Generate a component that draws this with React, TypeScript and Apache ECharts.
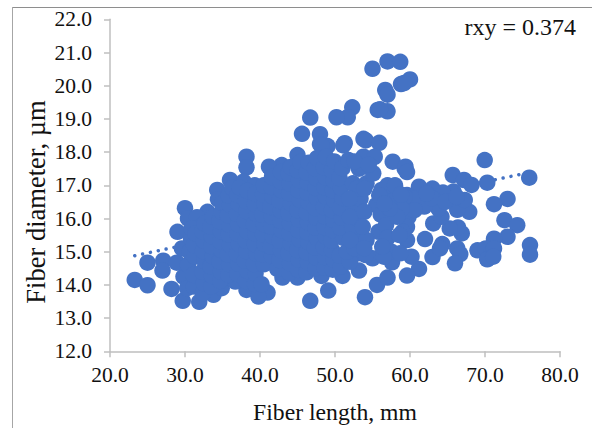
import React, { useEffect, useRef } from "react";
import * as echarts from "echarts";

const xTickMin = 20;
const xTickMax = 80;
const yTickMin = 12;
const yTickMax = 22;
const trendStart = [23.3, 14.88];
const trendEnd = [76, 17.39];

const upperBranch = [
  [55.0, 20.51], [57.0, 20.73], [58.7, 20.72], [60.0, 20.19], [58.8, 20.05], [59.2, 20.08],
  [56.7, 19.87], [57.0, 19.73], [57.0, 19.23], [55.7, 19.27], [56.0, 19.29], [52.3, 19.35],
  [51.7, 19.05], [50.2, 19.05], [46.7, 19.04], [45.6, 18.55], [48.0, 18.54], [48.0, 18.24],
  [49.0, 18.18], [51.3, 18.27], [53.8, 18.4], [54.1, 18.35], [55.9, 18.28], [48.2, 18.2],
  [51.1, 18.2], [45.0, 17.91], [53.8, 17.86], [55.3, 17.86], [57.7, 17.71], [59.3, 17.5],
  [59.4, 17.56], [59.6, 17.4], [38.2, 17.86], [38.2, 17.54], [41.4, 17.51], [42.9, 17.61],
  [41.2, 17.56],
];

const rightCluster = [
  [69.96, 17.76], [75.9, 17.23], [70.3, 17.08], [65.7, 17.31], [67.2, 17.16], [68.2, 17.01],
  [73.0, 16.59], [71.2, 16.43], [72.6, 15.95], [74.3, 15.8], [73.0, 15.45], [71.2, 15.39],
  [76.0, 15.2], [76.0, 14.91], [69.0, 15.04], [70.1, 15.1], [70.9, 15.0], [70.3, 14.77],
  [71.2, 15.1], [71.1, 14.85], [66.3, 15.1], [66.7, 14.93], [66.0, 14.65], [64.3, 15.23],
  [63.0, 14.84], [64.0, 15.1], [62.0, 15.38], [61.2, 14.48], [59.6, 14.28], [60.2, 14.85],
  [59.6, 15.35], [66.9, 15.55], [66.4, 15.73], [65.3, 15.7], [63.1, 15.85], [64.2, 16.05],
  [63.8, 16.3], [61.9, 16.36], [67.9, 16.2], [66.3, 16.26], [67.3, 16.56], [65.8, 16.81],
  [64.4, 16.78], [63.0, 16.9], [61.2, 16.96], [59.6, 16.71], [62.9, 16.61], [64.7, 16.5],
  [60.4, 16.6], [59.8, 16.05], [59.6, 15.75], [59.3, 16.66], [57.8, 16.6], [57.1, 16.0],
  [60.6, 16.25], [62.2, 16.75], [66.2, 16.65], [58.9, 16.3],
];

const lowerEdge = [
  [46.7, 13.52], [49.1, 13.83], [54.0, 13.63], [55.6, 14.0], [57.0, 14.22], [53.2, 14.43],
  [51.0, 14.27], [48.2, 14.27], [45.0, 14.22], [43.0, 14.22], [41.0, 13.77], [57.6, 14.68],
  [55.0, 14.8], [53.1, 14.95], [25.0, 14.67], [27.1, 14.73], [27.0, 14.43], [23.3, 14.15],
  [25.0, 13.99], [28.2, 13.88], [29.7, 13.52], [31.9, 13.49], [33.8, 13.7], [34.9, 13.9],
  [38.2, 13.85], [39.8, 13.65], [36.7, 14.1], [29.8, 14.25], [30.3, 13.9], [28.9, 14.67],
  [29.6, 15.1], [29.0, 15.6], [30.0, 16.31], [30.4, 16.0], [33.0, 16.2], [31.6, 16.04],
  [34.3, 16.86], [34.4, 16.58], [36.0, 17.16], [37.8, 17.11], [39.3, 17.0],
];

const denseCore = [
  [30.4, 14.6], [30.6, 15.0], [30.8, 15.4], [30.9, 15.7],
  [31.2, 13.95], [31.1, 14.3], [31.3, 14.85], [31.2, 15.2], [31.4, 15.55],
  [32.4, 13.75], [32.5, 14.05], [32.3, 14.4], [32.6, 14.72], [32.4, 15.02], [32.5, 15.33], [32.3, 15.62], [32.6, 15.85],
  [33.5, 13.95], [33.6, 14.27], [33.4, 14.56], [33.7, 14.86], [33.5, 15.17], [33.6, 15.46], [33.4, 15.75], [33.7, 16.05],
  [34.7, 14.12], [34.8, 14.4], [34.6, 14.71], [34.9, 15.03], [34.7, 15.32], [34.8, 15.61], [34.6, 15.92], [34.9, 16.2], [35.0, 16.46],
  [35.8, 14.3], [35.9, 14.62], [35.7, 14.91], [36.0, 15.2], [35.8, 15.52], [35.9, 15.81], [35.7, 16.1], [36.0, 16.4], [35.8, 16.7], [36.3, 16.92],
  [37.0, 14.33], [37.1, 14.64], [36.9, 14.93], [37.2, 15.23], [37.0, 15.54], [37.1, 15.83], [36.9, 16.14], [37.2, 16.43], [37.0, 16.71], [37.3, 16.93],
  [38.1, 14.12], [38.3, 14.42], [38.0, 14.73], [38.2, 15.02], [38.1, 15.33], [38.3, 15.62], [38.0, 15.93], [38.2, 16.22], [38.1, 16.53], [38.3, 16.83],
  [39.3, 14.03], [39.4, 14.34], [39.2, 14.63], [39.5, 14.94], [39.3, 15.23], [39.4, 15.54], [39.2, 15.83], [39.5, 16.14], [39.3, 16.43], [39.4, 16.74],
  [40.2, 14.02], [40.5, 14.62], [40.3, 14.92], [40.6, 15.23], [40.4, 15.52], [40.5, 15.83], [40.3, 16.12], [40.6, 16.43], [40.4, 16.73], [40.5, 17.0],
  [41.6, 14.86], [41.4, 15.15], [41.7, 15.46], [41.5, 15.75], [41.6, 16.06], [41.4, 16.35], [41.7, 16.66], [41.5, 16.95], [41.6, 17.25],
  [42.3, 14.48], [42.6, 14.75], [42.8, 15.04], [42.6, 15.33], [42.9, 15.64], [42.7, 15.93], [42.8, 16.24], [42.6, 16.53], [42.9, 16.84], [42.7, 17.13], [42.8, 17.4],
  [43.9, 14.36], [44.0, 14.65], [43.8, 14.96], [44.1, 15.25], [43.9, 15.56], [44.0, 15.85], [43.8, 16.16], [44.1, 16.45], [43.9, 16.76], [44.0, 17.05], [43.8, 17.36], [44.1, 17.55],
  [45.1, 14.45], [45.2, 14.76], [45.0, 15.05], [45.3, 15.36], [45.1, 15.65], [45.2, 15.96], [45.0, 16.25], [45.3, 16.56], [45.1, 16.85], [45.2, 17.16], [45.0, 17.45], [45.4, 17.7],
  [46.2, 14.38], [46.4, 14.68], [46.2, 14.98], [46.5, 15.28], [46.3, 15.58], [46.4, 15.88], [46.2, 16.18], [46.5, 16.48], [46.3, 16.78], [46.4, 17.08], [46.2, 17.38], [46.5, 17.68],
  [47.4, 14.5], [47.5, 14.82], [47.3, 15.12], [47.6, 15.42], [47.4, 15.72], [47.5, 16.02], [47.3, 16.32], [47.6, 16.62], [47.4, 16.92], [47.5, 17.22], [47.3, 17.52], [47.6, 17.82],
  [48.6, 14.52], [48.7, 14.83], [48.5, 15.14], [48.8, 15.45], [48.6, 15.74], [48.7, 16.05], [48.5, 16.34], [48.8, 16.65], [48.6, 16.94], [48.7, 17.25], [48.5, 17.54], [48.8, 17.85],
  [49.7, 14.46], [49.8, 14.76], [49.6, 15.05], [49.5, 15.33], [49.7, 15.65], [49.8, 15.95], [49.6, 16.25], [49.9, 16.55], [49.7, 16.85], [49.8, 17.15], [49.6, 17.45], [49.9, 17.72],
  [50.8, 14.55], [50.6, 14.88], [51.1, 15.42], [50.7, 15.72], [50.9, 16.02], [50.7, 16.32], [51.0, 16.62], [50.8, 16.92], [50.6, 17.22], [51.0, 17.52], [51.8, 17.76],
  [52.0, 14.7], [51.6, 15.0], [52.6, 15.1], [53.0, 15.38], [52.3, 15.72], [53.0, 16.0], [52.5, 16.32], [53.4, 16.6], [52.4, 17.06], [52.9, 16.9], [53.2, 17.5], [52.6, 17.72],
  [54.2, 17.06], [55.1, 17.36], [54.5, 17.62], [55.5, 16.4], [56.2, 16.86], [57.0, 17.0], [56.1, 16.12],
  [55.8, 15.6], [56.8, 15.8], [57.0, 15.42], [57.5, 15.0], [56.5, 14.85], [58.7, 14.95], [59.0, 15.6],
  [54.2, 15.35], [54.1, 14.9], [58.3, 16.05], [58.0, 17.0],
  [51.9, 16.6], [52.0, 16.05], [52.0, 15.35], [53.9, 16.2], [53.9, 16.9], [53.7, 15.75], [53.9, 15.1],
  [56.3, 15.15], [55.9, 16.7], [57.3, 16.3], [58.6, 15.5], [58.8, 16.72], [56.6, 16.45],
];

const allPoints = [...upperBranch, ...rightCluster, ...lowerEdge, ...denseCore];

export default function App() {
  const ref = useRef<HTMLDivElement>(null);
  useEffect(() => {
    const chart = echarts.init(ref.current!, null, { renderer: "svg" });
    const font = "'Liberation Serif', 'Times New Roman', serif";
    const axisLine = { lineStyle: { color: "#BFBFBF", width: 1.5 } };
    chart.setOption({
      animation: false,
      backgroundColor: "#fff",
      grid: { left: 110, right: 32, top: 19.3, bottom: 76.7, outerBoundsMode: "none" },
      xAxis: {
        type: "value", min: xTickMin, max: xTickMax, interval: 10,
        name: "Fiber length, mm", nameLocation: "middle", nameGap: 49,
        nameTextStyle: { fontFamily: font, fontSize: 23.7, color: "#111" },
        splitLine: { show: false },
        axisLine: { show: true, ...axisLine },
        axisTick: { show: true, length: 6, lineStyle: { color: "#BFBFBF", width: 1.5 } },
        axisLabel: { fontFamily: font, fontSize: 21.5, color: "#111", margin: 13, formatter: (v: number) => v.toFixed(1) },
      },
      yAxis: {
        type: "value", min: yTickMin, max: yTickMax, interval: 1,
        splitLine: { show: false },
        axisLine: { show: true, ...axisLine },
        axisTick: { show: true, length: 6, lineStyle: { color: "#BFBFBF", width: 1.5 } },
        axisLabel: { fontFamily: font, fontSize: 21.5, color: "#111", margin: 18, formatter: (v: number) => v.toFixed(1) },
      },
      graphic: [
        { type: "line", shape: { x1: 12, y1: 7.5, x2: 592, y2: 7.5 }, style: { stroke: "#8E8E8E", lineWidth: 1 } },
        { type: "line", shape: { x1: 12.5, y1: 7, x2: 12.5, y2: 428 }, style: { stroke: "#A6A6A6", lineWidth: 1 } },
        { type: "text", x: 576, y: 27, style: { text: "rxy = 0.374", fontFamily: font, fontSize: 24, fill: "#111", textAlign: "right", textVerticalAlign: "middle" } },
        { type: "text", x: 36, y: 202, rotation: Math.PI / 2, style: { text: "Fiber diameter, µm", fontFamily: font, fontSize: 26.5, fill: "#111", textAlign: "center", textVerticalAlign: "middle" } },
      ],
      series: [
        {
          type: "line", data: [trendStart, trendEnd], symbol: "none", z: 1, silent: true,
          lineStyle: { color: "#4472C4", width: 3.5, type: [0.01, 8], cap: "round" },
        },
        {
          type: "scatter", data: allPoints, symbol: "circle", symbolSize: 16.5, z: 2,
          itemStyle: { color: "#4472C4", opacity: 1 },
        },
      ],
    });
    return () => chart.dispose();
  }, []);
  return <div ref={ref} style={{ position: "fixed", left: 0, top: 0, width: 592, height: 428 }} />;
}
